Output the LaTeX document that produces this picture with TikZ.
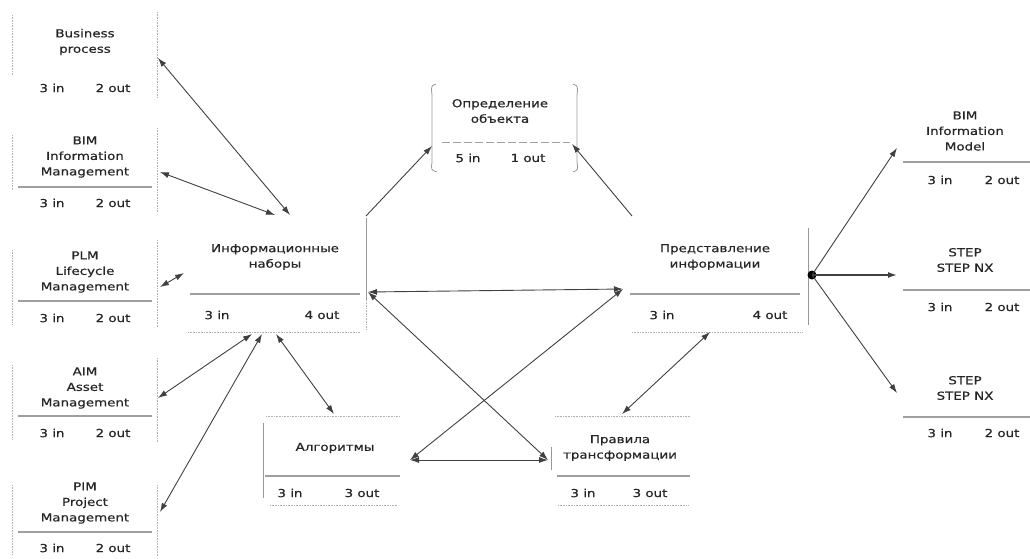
\documentclass[tikz,border=0pt]{standalone}
\usepackage{fontspec}
\setmainfont{DejaVu Sans}[FakeStretch=1.22,FakeBold=0.6]
\usetikzlibrary{arrows.meta}

\tikzset{
  lbl/.style={align=center, inner sep=0pt, font=\fontsize{11}{15.5}\selectfont, text=black!85},
  io/.style={inner sep=0pt, font=\fontsize{11}{12}\selectfont, text=black!85},
  sep/.style={gray!75, line width=1.3pt},
  edge/.style={gray!60, densely dotted, line width=0.6pt},
  side/.style={gray!80, line width=0.8pt},
  link/.style={black!75, line width=0.9pt, {Latex[length=9pt,width=6pt]}-{Latex[length=9pt,width=6pt]}},
  one/.style={black!75, line width=0.9pt, -{Latex[length=9pt,width=6pt]}}
}

\begin{document}
\begin{tikzpicture}[x=1pt,y=-1pt]
\useasboundingbox (0,0) rectangle (1030,558);

% left column
\node[lbl] (bp) at (85,42) {Business\\process};
\node[io] (bp-in) at (52,88) {3 in};
\node[io] (bp-out) at (113,88) {2 out};
\draw[edge] (12,15)--(12,75);
\draw[edge] (157,12)--(157,98);

\node[lbl] (bim) at (85,157) {BIM\\Information\\Management};
\draw[sep] (18,187)--(152,187);
\node[io] (bim-in) at (52,203) {3 in};
\node[io] (bim-out) at (113,203) {2 out};
\draw[edge] (12,135)--(12,190);
\draw[edge] (157,128)--(157,212);

\node[lbl] (plm) at (85,272) {PLM\\Lifecycle\\Management};
\draw[sep] (18,301)--(152,301);
\node[io] (plm-in) at (52,318) {3 in};
\node[io] (plm-out) at (113,318) {2 out};
\draw[edge] (12,250)--(12,325);
\draw[edge] (157,240)--(157,327);

\node[lbl] (aim) at (85,388) {AIM\\Asset\\Management};
\draw[sep] (18,416)--(152,416);
\node[io] (aim-in) at (52,433) {3 in};
\node[io] (aim-out) at (113,433) {2 out};
\draw[edge] (12,365)--(12,440);
\draw[edge] (157,358)--(157,442);

\node[lbl] (pim) at (85,503) {PIM\\Project\\Management};
\draw[sep] (18,532)--(152,532);
\node[io] (pim-in) at (52,548) {3 in};
\node[io] (pim-out) at (113,548) {2 out};
\draw[edge] (12,485)--(12,555);
\draw[edge] (157,485)--(157,556);

% Информационные наборы
\node[lbl] (inf) at (275,257) {Информационные\\наборы};
\draw[sep] (190,294)--(360,294);
\node[io] (inf-in) at (217,315) {3 in};
\node[io] (inf-out) at (322,315) {4 out};
\draw[edge] (188,332)--(360,332);
\draw[side] (366,218)--(366,300);
\draw[edge] (366,300)--(366,330);

% Определение объекта
\node[lbl] (def) at (500,111) {Определение\\объекта};
\draw[sep, line width=1pt, dash pattern=on 8pt off 3pt] (442,142)--(570,142);
\node[io] (def-in) at (468,158) {5 in};
\node[io] (def-out) at (528,158) {1 out};
\draw[side] (436,84) .. controls (431,86) .. (432,95) -- (432,162) .. controls (431,170) .. (437,172);
\draw[side] (573,84) .. controls (578,86) .. (577,95) -- (577,162) .. controls (578,170) .. (573,172);

% Представление информации
\node[lbl] (rep) at (715,257) {Представление\\информации};
\draw[sep] (630,294)--(800,294);
\node[io] (rep-in) at (662,315) {3 in};
\node[io] (rep-out) at (770,315) {4 out};
\draw[edge] (632,332)--(802,332);
\draw[side] (808,228)--(808,325);

% right column
\node[lbl] (bimm) at (965,131) {BIM\\Information\\Model};
\draw[sep] (903,162)--(1030,162);
\node[io] (bimm-in) at (940,180) {3 in};
\node[io] (bimm-out) at (1002,180) {2 out};

\node[lbl] (stp1) at (965,260) {STEP\\STEP NX};
\draw[sep] (903,290)--(1030,290);
\node[io] (stp1-in) at (940,307) {3 in};
\node[io] (stp1-out) at (1002,307) {2 out};

\node[lbl] (stp2) at (965,388) {STEP\\STEP NX};
\draw[sep] (903,417)--(1030,417);
\node[io] (stp2-in) at (940,433) {3 in};
\node[io] (stp2-out) at (1002,433) {2 out};

% Алгоритмы
\node[lbl] (alg) at (335,448) {Алгоритмы};
\draw[sep] (265,476)--(400,476);
\node[io] (alg-in) at (290,493) {3 in};
\node[io] (alg-out) at (362,493) {3 out};
\draw[side] (263,423)--(263,498);
\draw[edge] (266,416)--(400,416);
\draw[edge] (270,505)--(398,505);

% Правила трансформации
\node[lbl] (pra) at (620,448) {Правила\\трансформации};
\draw[sep] (557,476)--(690,476);
\node[io] (pra-in) at (583,493) {3 in};
\node[io] (pra-out) at (650,493) {3 out};
\draw[side] (551,447)--(551,470);
\draw[edge] (555,416)--(690,416);
\draw[edge] (558,505)--(688,505);

% ends of the connectors
\coordinate (bp-p) at (158,58);
\coordinate (bim-p) at (160,172);
\coordinate (plm-p) at (160,287);
\coordinate (aim-p) at (158,398);
\coordinate (pim-p) at (160,512);
\coordinate (inf-a) at (290,215);
\coordinate (inf-b) at (275,215);
\coordinate (inf-c) at (184,273);
\coordinate (inf-d) at (252,334);
\coordinate (inf-e) at (262,334);
\coordinate (inf-f) at (276,334);
\coordinate (inf-g) at (366,216);
\coordinate (inf-h) at (368,292);
\coordinate (def-l) at (432,146);
\coordinate (def-r) at (572,144);
\coordinate (rep-a) at (632,216);
\coordinate (rep-b) at (623,289);
\coordinate (rep-c) at (710,332);
\coordinate (alg-t) at (334,414);
\coordinate (alg-r) at (410,460);
\coordinate (pra-l) at (548,460);
\coordinate (pra-t) at (622,414);
\coordinate (bimm-p) at (897,148);
\coordinate (stp1-p) at (897,275);
\coordinate (stp2-p) at (897,393);

\draw[link] (bp-p)--(inf-a);
\draw[link] (bim-p)--(inf-b);
\draw[link] (plm-p)--(inf-c);
\draw[link] (aim-p)--(inf-d);
\draw[link] (pim-p)--(inf-e);
\draw[link] (inf-f)--(alg-t);
\draw[one] (inf-g)--(def-l);
\draw[one] (rep-a)--(def-r);
\draw[link] (inf-h)--(rep-b);
\draw[link] (inf-h)--(pra-l);
\draw[link] (rep-b)--(alg-r);
\draw[link] (alg-r)--(pra-l);
\draw[link] (rep-c)--(pra-t);

% hub
\fill[black] (812,275) circle (4.5) coordinate (hub);
\draw[one] (hub)--(bimm-p);
\draw[one, line width=1.5pt] (hub)--(stp1-p);
\draw[one] (hub)--(stp2-p);

\end{tikzpicture}
\end{document}
